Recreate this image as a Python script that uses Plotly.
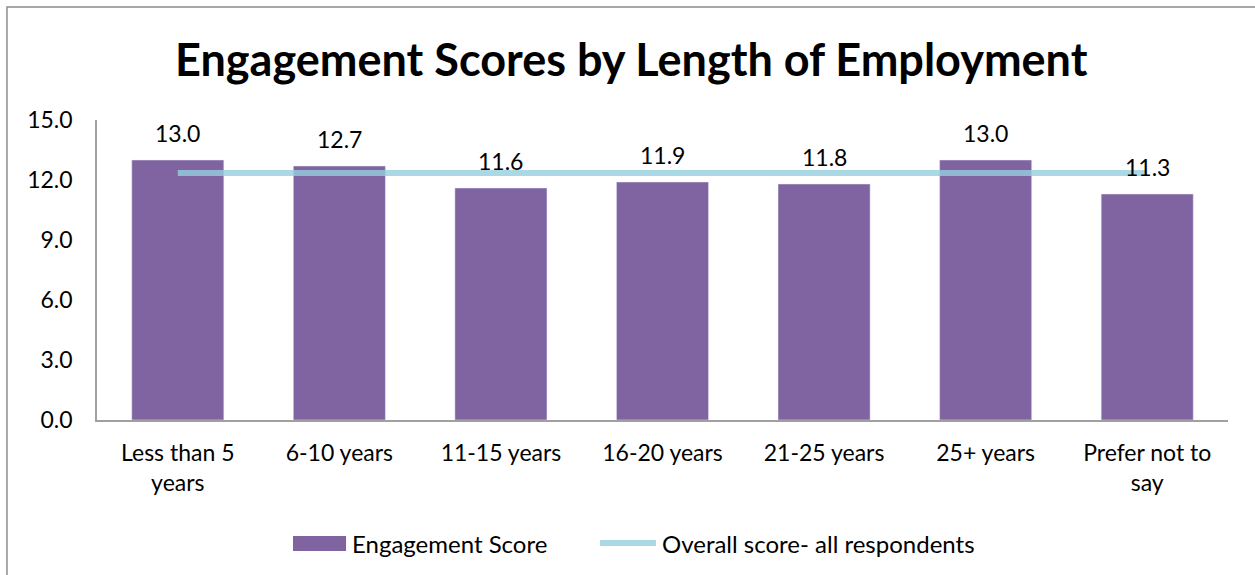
import plotly.graph_objects as go

categories = ["Less than 5<br>years", "6-10 years", "11-15 years", "16-20 years",
              "21-25 years", "25+ years", "Prefer not to<br>say"]
engagement = [13.0, 12.7, 11.6, 11.9, 11.8, 13.0, 11.3]
overall = [12.35] * len(categories)
y_ticks = [0, 3, 6, 9, 12, 15]
series_names = ["Engagement Score", "Overall score- all respondents"]

FONT = "Lato"
BAR_COLOR = "#8064A2"
LINE_COLOR = "rgba(150,206,222,0.8)"

fig = go.Figure()
fig.add_trace(go.Bar(
    x=categories, y=engagement, name=series_names[0],
    marker=dict(color=BAR_COLOR), width=0.57, showlegend=False,
))
fig.add_trace(go.Scatter(
    x=categories, y=overall, name=series_names[1], showlegend=False,
    mode="lines", line=dict(color=LINE_COLOR, width=6),
))
# data labels
for c, v in zip(categories, engagement):
    fig.add_annotation(x=c, y=v, text=f"{v:.1f}", showarrow=False,
                       yshift=27, font=dict(size=23, family=FONT, color="#000000"))

fig.update_layout(
    width=1255, height=575,
    margin=dict(l=97, r=27, t=120, b=155),
    paper_bgcolor="white", plot_bgcolor="white",
    font=dict(family=FONT, size=23, color="#000000"),
    title=dict(text="<b>Engagement Scores by Length of Employment</b>",
               x=0.503, xanchor="center", y=0.895, yanchor="middle",
               font=dict(size=45, family=FONT, color="#000000")),
    showlegend=False,
    bargap=0.43,
)
fig.update_yaxes(range=[0, 15], tickvals=y_ticks, ticktext=[f"{v:.1f}" for v in y_ticks],
                 showgrid=False, showline=True, linecolor="#A0A0A0", linewidth=1.5,
                 ticks="", zeroline=False, tickfont=dict(size=23, family=FONT),
                 ticklabelstandoff=18)
fig.update_xaxes(showgrid=False, showline=True, linecolor="#A0A0A0", linewidth=1.5,
                 ticks="", tickfont=dict(size=23, family=FONT), tickangle=0,
                 ticklabelstandoff=12)

# legend drawn manually (wide swatches like the reference)
fig.add_shape(type="rect", xref="paper", yref="paper",
              x0=0.1733, x1=0.2202, y0=-0.437, y1=-0.387,
              line=dict(width=0), fillcolor=BAR_COLOR)
fig.add_annotation(xref="paper", yref="paper", x=0.2237, y=-0.41, xanchor="left",
                   yanchor="middle", text=series_names[0], showarrow=False,
                   font=dict(size=24, family=FONT, color="#000000"))
fig.add_shape(type="line", xref="paper", yref="paper",
              x0=0.4447, x1=0.4942, y0=-0.41, y1=-0.41,
              line=dict(color=LINE_COLOR, width=6))
fig.add_annotation(xref="paper", yref="paper", x=0.4977, y=-0.41, xanchor="left",
                   yanchor="middle", text=series_names[1], showarrow=False,
                   font=dict(size=24, family=FONT, color="#000000"))

# chart border
fig.add_shape(type="rect", xref="paper", yref="paper",
              x0=-0.0796, x1=1.05, y0=-0.7, y1=1.377,
              line=dict(color="#8C8C8C", width=1.5), fillcolor="rgba(0,0,0,0)", layer="below")

fig.write_html("out.html", config={"displayModeBar": False},
               post_script="document.body.style.margin='0';")
